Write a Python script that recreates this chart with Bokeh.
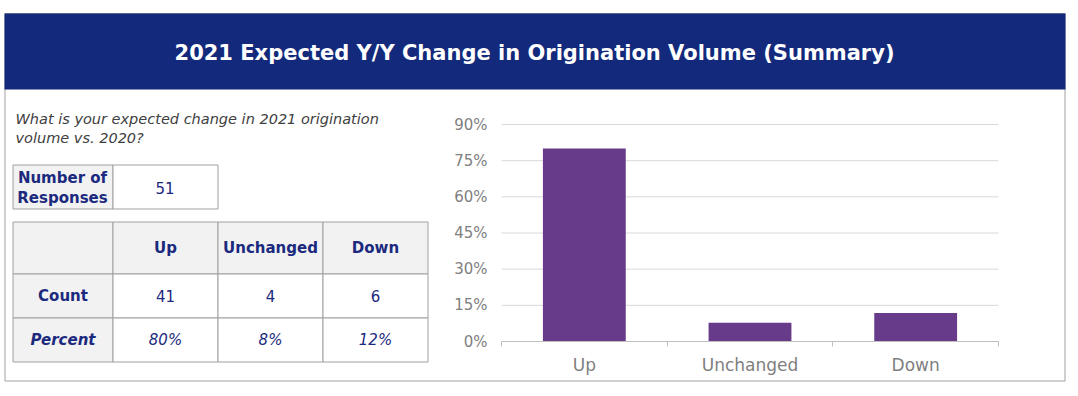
from bokeh.plotting import figure
from bokeh.models import Range1d, FixedTicker, NumeralTickFormatter, LinearAxis
from bokeh.core.properties import value
from bokeh.embed import file_html
from bokeh.resources import INLINE

# ---------------- data ----------------
categories = ["Up", "Unchanged", "Down"]
counts = [41, 4, 6]
percent_labels = ["80%", "8%", "12%"]
bar_values = [0.80, 0.078, 0.118]
y_ticks = [0, 0.15, 0.30, 0.45, 0.60, 0.75, 0.90]
n_responses = 51
title_text = "2021 Expected Y/Y Change in Origination Volume (Summary)"
question_lines = ["What is your expected change in 2021 origination", "volume vs. 2020?"]
row_labels = ["Count", "Percent"]

# ---------------- styles / layout constants ----------------
FONT = value("DejaVu Sans")
NAVY = "#13297B"
TXT_NAVY = "#1B2A7E"
LINE_GRAY = "#A0A0A0"
HEAD_FILL = "#F2F2F2"
BAR = "#673B8A"
AX_GRAY = "#808080"

W, H = 1072, 390
# chart plot box in canvas pixels
CH_L, CH_R, CH_T, CH_B = 501, 998, 124, 341

ncat = len(categories)
x_lo, x_hi = -0.5, ncat - 0.5
y_lo, y_hi = y_ticks[0], y_ticks[-1]
ppx = (CH_R - CH_L) / (x_hi - x_lo)
ppy = (CH_B - CH_T) / (y_hi - y_lo)
cx_range = Range1d(x_lo - CH_L / ppx, x_hi + (W - CH_R) / ppx)
cy_range = Range1d(y_lo - (H - CH_B) / ppy, y_hi + CH_T / ppy)

p = figure(width=W, height=H, x_range=Range1d(0, W), y_range=Range1d(H, 0),
           x_axis_location=None, y_axis_location=None,
           output_backend="svg", toolbar_location=None, min_border=0)
p.grid.visible = False
p.outline_line_color = None
p.background_fill_color = "white"
p.border_fill_color = "white"
p.extra_x_ranges = {"cx": cx_range}
p.extra_y_ranges = {"cy": cy_range}

# ---------------- frame + title ----------------
p.quad(left=[4.5], right=[1064.5], top=[13], bottom=[380.5], fill_color="white",
       line_color=LINE_GRAY, line_width=1)
p.quad(left=[4], right=[1065], top=[13], bottom=[89], fill_color=NAVY, line_color=None)
p.text(x=[534], y=[52], text=[title_text], text_font=FONT, text_font_style="bold",
       text_font_size="21px", text_color="white", text_align="center", text_baseline="middle")

# ---------------- question ----------------
p.text(x=[15, 15], y=[118, 137], text=question_lines, text_font=FONT, text_font_style="italic",
       text_font_size="14.5px", text_color="#404040", text_align="left", text_baseline="middle")

# ---------------- small table ----------------
p.quad(left=[12.5, 112.5], right=[112.5, 217.5], top=[164.5, 164.5], bottom=[208.5, 208.5],
       fill_color=[HEAD_FILL, "white"], line_color=LINE_GRAY, line_width=1)
p.text(x=[62, 62], y=[177, 197], text=["Number of", "Responses"], text_font=FONT,
       text_font_style="bold", text_font_size="15px", text_color=TXT_NAVY,
       text_align="center", text_baseline="middle")
p.text(x=[164.5], y=[187], text=[str(n_responses)], text_font=FONT, text_font_size="15px",
       text_color=TXT_NAVY, text_align="center", text_baseline="middle")

# ---------------- big table ----------------
cols = [12.5, 112.5, 217.5, 322.5, 427.5]
rows_y = [221.5, 273.5, 317.5, 361.5]
L, R, T, B, F = [], [], [], [], []
for ri in range(3):
    for ci in range(4):
        L.append(cols[ci]); R.append(cols[ci + 1]); T.append(rows_y[ri]); B.append(rows_y[ri + 1])
        F.append(HEAD_FILL if (ri == 0 or ci == 0) else "white")
p.quad(left=L, right=R, top=T, bottom=B, fill_color=F, line_color=LINE_GRAY, line_width=1)
cxs = [(cols[i] + cols[i + 1]) / 2 for i in range(4)]
cys = [(rows_y[i] + rows_y[i + 1]) / 2 for i in range(3)]
common = dict(text_font=FONT, text_font_size="15px", text_color=TXT_NAVY,
              text_align="center", text_baseline="middle")
p.text(x=cxs[1:], y=[cys[0]] * ncat, text=categories, text_font_style="bold", **common)
p.text(x=[cxs[0]], y=[cys[1]], text=[row_labels[0]], text_font_style="bold", **common)
p.text(x=[cxs[0]], y=[cys[2]], text=[row_labels[1]], text_font_style="bold italic", **common)
p.text(x=cxs[1:], y=[cys[1]] * ncat, text=[str(c) for c in counts], **common)
p.text(x=cxs[1:], y=[cys[2]] * ncat, text=percent_labels, text_font_style="italic", **common)

# ---------------- bar chart ----------------
xs = list(range(ncat))
grid_t = y_ticks[1:]
p.segment(x0=[x_lo] * len(grid_t), x1=[x_hi] * len(grid_t), y0=grid_t, y1=grid_t,
          line_color="#D9D9D9", line_width=1, x_range_name="cx", y_range_name="cy")
p.vbar(x=xs, top=bar_values, width=0.5, fill_color=BAR, line_color=None,
       x_range_name="cx", y_range_name="cy")

xaxis = LinearAxis(x_range_name="cx", y_range_name="cy", fixed_location=y_lo, bounds=(x_lo, x_hi))
xaxis.ticker = FixedTicker(ticks=xs, minor_ticks=[x - 0.5 for x in xs] + [x_hi])
xaxis.major_label_overrides = {i: c for i, c in enumerate(categories)}
xaxis.major_tick_line_color = None
xaxis.major_tick_out = 0
xaxis.major_tick_in = 0
xaxis.minor_tick_out = 5
xaxis.minor_tick_in = 0
xaxis.minor_tick_line_color = "#BFBFBF"
xaxis.axis_line_color = "#BFBFBF"
xaxis.major_label_text_font = "DejaVu Sans"
xaxis.major_label_text_font_size = "17px"
xaxis.major_label_text_color = AX_GRAY
xaxis.major_label_standoff = 8
p.add_layout(xaxis, "below")

yaxis = LinearAxis(x_range_name="cx", y_range_name="cy", fixed_location=x_lo, bounds=(y_lo, y_hi))
yaxis.ticker = FixedTicker(ticks=y_ticks)
yaxis.formatter = NumeralTickFormatter(format="0%")
yaxis.axis_line_color = None
yaxis.major_tick_line_color = None
yaxis.minor_tick_line_color = None
yaxis.major_tick_out = 0
yaxis.major_tick_in = 0
yaxis.major_label_text_font = "DejaVu Sans"
yaxis.major_label_text_font_size = "15px"
yaxis.major_label_text_color = AX_GRAY
yaxis.major_label_standoff = 14
p.add_layout(yaxis, "left")

open("out.html", "w").write(file_html(p, INLINE))
